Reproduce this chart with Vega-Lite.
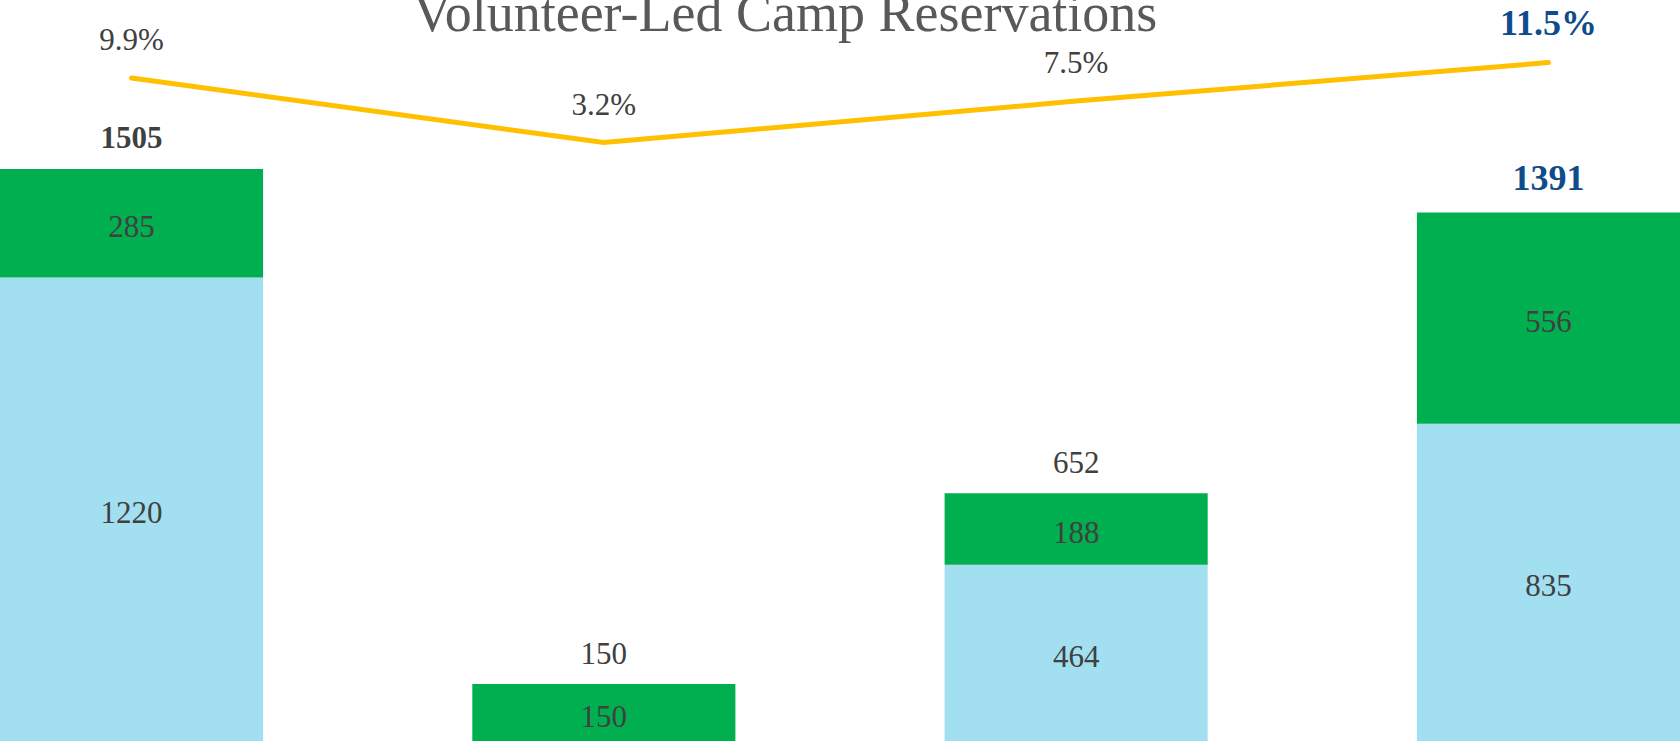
{
  "$schema": "https://vega.github.io/schema/vega-lite/v6.json",
  "width": 1680,
  "height": 741,
  "autosize": {"type": "none"},
  "padding": 0,
  "background": "white",
  "config": {"view": {"stroke": null}, "font": "Liberation Serif"},
  "title": {
    "text": "Volunteer-Led Camp Reservations",
    "font": "Liberation Serif",
    "fontSize": 54,
    "fontWeight": "normal",
    "color": "#595959",
    "anchor": "middle",
    "frame": "group",
    "baseline": "alphabetic",
    "offset": -27,
    "dx": -55,
    "dy": 58
  },
  "datasets": {
    "bars": [
      {"cat": "A", "seg": "Base", "segOrder": 1, "value": 1220},
      {"cat": "A", "seg": "Added", "segOrder": 2, "value": 285},
      {"cat": "B", "seg": "Base", "segOrder": 1, "value": 0},
      {"cat": "B", "seg": "Added", "segOrder": 2, "value": 150},
      {"cat": "C", "seg": "Base", "segOrder": 1, "value": 464},
      {"cat": "C", "seg": "Added", "segOrder": 2, "value": 188},
      {"cat": "D", "seg": "Base", "segOrder": 1, "value": 835},
      {"cat": "D", "seg": "Added", "segOrder": 2, "value": 556}
    ],
    "rates": [
      {"cat": "A", "rate": 0.099},
      {"cat": "B", "rate": 0.032},
      {"cat": "C", "rate": 0.075},
      {"cat": "D", "rate": 0.115}
    ]
  },
  "encoding": {
    "x": {
      "field": "cat",
      "type": "nominal",
      "sort": null,
      "scale": {"type": "band", "paddingInner": 0.443, "paddingOuter": 0},
      "axis": {
        "labels": false,
        "ticks": false,
        "title": null,
        "grid": false,
        "domainColor": "#D9D9D9",
        "domainWidth": 4,
        "offset": 2,
        "zindex": 1
      }
    }
  },
  "resolve": {"scale": {"y": "independent"}},
  "layer": [
    {
      "data": {"name": "bars"},
      "layer": [
        {
          "mark": {"type": "bar"},
          "encoding": {
            "y": {"field": "value", "type": "quantitative", "stack": "zero", "scale": {"domain": [0, 1950], "nice": false}, "axis": null},
            "color": {"field": "seg", "type": "nominal", "scale": {"domain": ["Base", "Added"], "range": ["#A1DFF1", "#00B050"]}, "legend": null},
            "order": {"field": "segOrder"}
          }
        },
        {
          "transform": [
            {"stack": "value", "groupby": ["cat"], "sort": [{"field": "segOrder"}], "as": ["v0", "v1"]},
            {"fold": ["v0", "v1"], "as": ["edge", "pos"]},
            {"aggregate": [{"op": "mean", "field": "pos", "as": "mid"}, {"op": "max", "field": "value", "as": "value"}], "groupby": ["cat", "seg"]},
            {"filter": "datum.value > 0"}
          ],
          "mark": {"type": "text", "font": "Liberation Serif", "fontSize": 31, "color": "#404040", "baseline": "middle", "align": "center", "dy": 5},
          "encoding": {
            "y": {"field": "mid", "type": "quantitative"},
            "text": {"field": "value", "type": "quantitative", "format": "d"}
          }
        },
        {
          "transform": [{"filter": "datum.cat === 'A'"}],
          "mark": {"type": "text", "font": "Liberation Serif", "fontSize": 31, "fontWeight": "bold", "color": "#404040", "baseline": "alphabetic", "align": "center", "dy": -21},
          "encoding": {
            "y": {"aggregate": "sum", "field": "value", "type": "quantitative"},
            "text": {"aggregate": "sum", "field": "value", "type": "quantitative", "format": "d"}
          }
        },
        {
          "transform": [{"filter": "datum.cat === 'B' || datum.cat === 'C'"}],
          "mark": {"type": "text", "font": "Liberation Serif", "fontSize": 31, "color": "#404040", "baseline": "alphabetic", "align": "center", "dy": -20},
          "encoding": {
            "y": {"aggregate": "sum", "field": "value", "type": "quantitative"},
            "text": {"aggregate": "sum", "field": "value", "type": "quantitative", "format": "d"}
          }
        },
        {
          "transform": [{"filter": "datum.cat === 'D'"}],
          "mark": {"type": "text", "font": "Liberation Serif", "fontSize": 36, "fontWeight": "bold", "color": "#0F4C8A", "baseline": "alphabetic", "align": "center", "dy": -22},
          "encoding": {
            "y": {"aggregate": "sum", "field": "value", "type": "quantitative"},
            "text": {"aggregate": "sum", "field": "value", "type": "quantitative", "format": "d"}
          }
        }
      ]
    },
    {
      "data": {"name": "rates"},
      "encoding": {
        "y": {"field": "rate", "type": "quantitative", "scale": {"domain": [-0.5895, 0.18], "nice": false}, "axis": null}
      },
      "layer": [
        {
          "mark": {"type": "line", "color": "#FFC000", "strokeWidth": 5, "strokeCap": "round", "strokeJoin": "miter"}
        },
        {
          "transform": [{"filter": "datum.cat !== 'D'"}],
          "mark": {"type": "text", "font": "Liberation Serif", "fontSize": 31, "color": "#404040", "baseline": "alphabetic", "align": "center", "dy": -28},
          "encoding": {"text": {"field": "rate", "type": "quantitative", "format": ".1%"}}
        },
        {
          "transform": [{"filter": "datum.cat === 'D'"}],
          "mark": {"type": "text", "font": "Liberation Serif", "fontSize": 36, "fontWeight": "bold", "color": "#0F4C8A", "baseline": "alphabetic", "align": "center", "dy": -28},
          "encoding": {"text": {"field": "rate", "type": "quantitative", "format": ".1%"}}
        }
      ]
    }
  ]
}
